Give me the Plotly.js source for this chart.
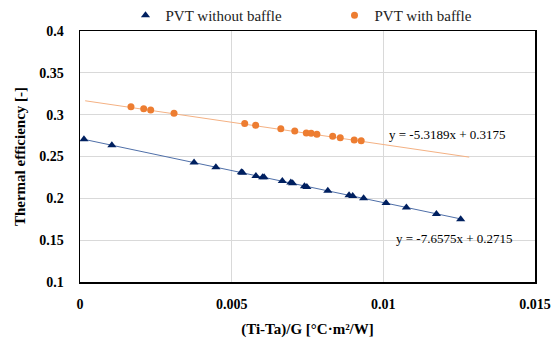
<!DOCTYPE html>
<html>
<head>
<meta charset="utf-8">
<script src="https://cdn.plot.ly/plotly-3.0.1.min.js"></script>
<style>html,body{margin:0;padding:0;background:#fff}#chart{width:560px;height:338px}</style>
</head>
<body>
<div id="chart"></div>
<script>
// PVT without baffle
var xWithout = [0.00013, 0.00105, 0.00376, 0.00448, 0.00532, 0.00536, 0.00580, 0.00602, 0.00607, 0.00667, 0.00695, 0.00701, 0.00740, 0.00748, 0.00817, 0.00887, 0.00899, 0.00935, 0.01009, 0.01076, 0.01175, 0.01255];
var yWithout = [0.2706, 0.2634, 0.2427, 0.2372, 0.2312, 0.2307, 0.2268, 0.2252, 0.2252, 0.2208, 0.2188, 0.2180, 0.2145, 0.2136, 0.2092, 0.2037, 0.2029, 0.2001, 0.1943, 0.1891, 0.1814, 0.1750];
// PVT with baffle
var xWith = [0.00168, 0.00210, 0.00233, 0.00310, 0.00543, 0.00579, 0.00662, 0.00708, 0.00746, 0.00762, 0.00781, 0.00833, 0.00858, 0.00904, 0.00927];
var yWith = [0.3096, 0.3072, 0.3056, 0.3017, 0.2893, 0.2873, 0.2833, 0.2805, 0.2781, 0.2778, 0.2766, 0.2742, 0.2725, 0.2698, 0.2689];
// linear trendlines (as labelled)
var slopeWithout = -7.6575, interceptWithout = 0.2715;
var slopeWith = -5.3189, interceptWith = 0.3175;
var trendXWithout = [0.00007, 0.01255];
var trendXWith = [0.00017, 0.01283];
var labelWithout = "y = -7.6575x + 0.2715";
var labelWith = "y = -5.3189x + 0.3175";
var seriesNames = ["PVT without baffle", "PVT with baffle"];
var xTicks = [0, 0.005, 0.01, 0.015];
var yTicks = [0.1, 0.15, 0.2, 0.25, 0.3, 0.35, 0.4];

function line(xs, m, b) { return xs.map(function (x) { return m * x + b; }); }
function bold(v) { return "<b>" + v + "</b>"; }

var serif = "Liberation Serif, Times New Roman, serif";
var traces = [
  {x: trendXWithout, y: line(trendXWithout, slopeWithout, interceptWithout), mode: "lines", line: {color: "#4f6fa8", width: 1}, showlegend: false, hoverinfo: "skip"},
  {x: trendXWith, y: line(trendXWith, slopeWith, interceptWith), mode: "lines", line: {color: "#f4b183", width: 1}, showlegend: false, hoverinfo: "skip"},
  {x: xWithout, y: yWithout, name: seriesNames[0], mode: "markers", marker: {symbol: "triangle-up", size: 8, color: "#002060"}},
  {x: xWith, y: yWith, name: seriesNames[1], mode: "markers", marker: {symbol: "circle", size: 7, color: "#ed7d31"}}
];

var layout = {
  width: 560, height: 338,
  margin: {l: 80, r: 25, t: 31, b: 56, autoexpand: false},
  paper_bgcolor: "#fff", plot_bgcolor: "#fff",
  font: {family: serif, color: "#000"},
  showlegend: true,
  legend: {orientation: "h", x: 0.1, xanchor: "left", y: 1.062, yanchor: "middle", font: {family: serif, size: 15, color: "#222"}, entrywidth: 164, entrywidthmode: "pixels", traceorder: "normal", bgcolor: "rgba(0,0,0,0)"},
  xaxis: {
    range: [0, 0.015], tickvals: xTicks, ticktext: xTicks.map(bold),
    showgrid: true, gridcolor: "#d9d9d9", gridwidth: 1, zeroline: false,
    showline: true, linecolor: "#000", linewidth: 1.5, mirror: true, ticks: "",
    ticklabelstandoff: 9,
    tickfont: {family: serif, size: 14, color: "#000"},
    title: {text: "<b>(Ti-Ta)/G [°C·m²/W]</b>", font: {family: serif, size: 15, color: "#000"}, standoff: 17}
  },
  yaxis: {
    range: [0.1, 0.4], tickvals: yTicks, ticktext: yTicks.map(bold),
    showgrid: true, gridcolor: "#d9d9d9", gridwidth: 1, zeroline: false,
    showline: true, linecolor: "#000", linewidth: 1.5, mirror: true, ticks: "",
    ticklabelstandoff: 12,
    tickfont: {family: serif, size: 14, color: "#000"},
    title: {text: "<b>Thermal efficiency [-]</b>", font: {family: serif, size: 15, color: "#000"}, standoff: 10}
  },
  annotations: [
    {x: 0.01035, y: 0.1515, xref: "x", yref: "y", text: labelWithout, showarrow: false, xanchor: "left", yanchor: "middle", font: {family: serif, size: 13, color: "#000"}},
    {x: 0.01012, y: 0.2758, xref: "x", yref: "y", text: labelWith, showarrow: false, xanchor: "left", yanchor: "middle", font: {family: serif, size: 13, color: "#000"}}
  ]
};

Plotly.newPlot("chart", traces, layout, {displayModeBar: false, staticPlot: true});
</script>
</body>
</html>
